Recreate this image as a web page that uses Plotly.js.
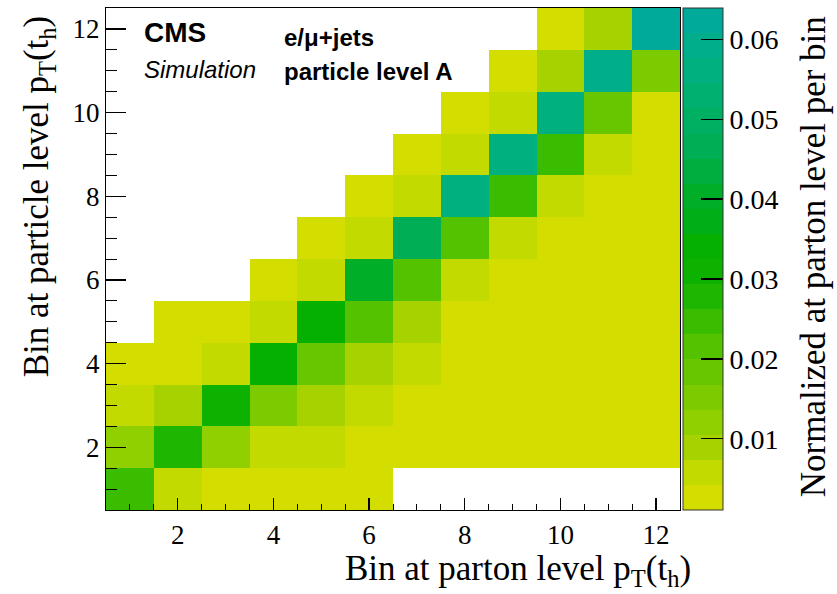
<!DOCTYPE html>
<html>
<head>
<meta charset="utf-8">
<script src="https://cdn.plot.ly/plotly-3.0.1.min.js"></script>
<style>html,body{margin:0;padding:0;background:#fff;}#plot{width:837px;height:594px;}</style>
</head>
<body>
<div id="plot"></div>
<script>
// Bin indices (parton level on x, particle level on y)
const partonBins = [1,2,3,4,5,6,7,8,9,10,11,12];
const particleBins = [1,2,3,4,5,6,7,8,9,10,11,12];

// Migration matrix: rows = particle-level bin 1..12, columns = parton-level bin 1..12
const row1  = [0.0245,0.0058,0.0035,0.0030,0.0025,0.0020,null,null,null,null,null,null];
const row2  = [0.0120,0.0280,0.0118,0.0060,0.0056,0.0035,0.0030,0.0026,0.0022,0.0020,0.0018,0.0015];
const row3  = [0.0060,0.0090,0.0310,0.0155,0.0095,0.0056,0.0035,0.0030,0.0026,0.0022,0.0020,0.0018];
const row4  = [0.0030,0.0036,0.0060,0.0340,0.0185,0.0095,0.0056,0.0035,0.0030,0.0026,0.0022,0.0020];
const row5  = [null,0.0025,0.0035,0.0058,0.0342,0.0220,0.0095,0.0038,0.0032,0.0028,0.0024,0.0022];
const row6  = [null,null,null,0.0030,0.0058,0.0395,0.0230,0.0056,0.0036,0.0030,0.0027,0.0024];
const row7  = [null,null,null,null,0.0028,0.0056,0.0465,0.0228,0.0056,0.0036,0.0030,0.0027];
const row8  = [null,null,null,null,null,0.0030,0.0058,0.0545,0.0235,0.0058,0.0035,0.0030];
const row9  = [null,null,null,null,null,null,0.0030,0.0060,0.0560,0.0232,0.0060,0.0038];
const row10 = [null,null,null,null,null,null,null,0.0034,0.0060,0.0562,0.0190,0.0040];
const row11 = [null,null,null,null,null,null,null,null,0.0035,0.0090,0.0585,0.0158];
const row12 = [null,null,null,null,null,null,null,null,null,0.0035,0.0090,0.0620];
const zRows = [row1,row2,row3,row4,row5,row6,row7,row8,row9,row10,row11,row12];

const zMin = 0.0011, zMax = 0.0639;
const cbTicks = [0.01,0.02,0.03,0.04,0.05,0.06];

// 20-level stepped palette (bottom to top)
const palette = ['#d3de00','#c3da00','#a6d300','#90cf00','#7bcb00','#68c600','#55c200','#3abc00',
  '#1eb600','#0db200','#05b000','#00ae18','#00ae28','#00ae40','#00ae55','#00b062','#00b070',
  '#00b07e','#00ae8c','#00aa9a'];
const colorscale = [];
palette.forEach((c,i)=>{ colorscale.push([i/palette.length,c]); colorscale.push([(i+1)/palette.length,c]); });

const serif = 'Liberation Serif, Times New Roman, serif';
const sans = 'Liberation Sans, Arial, sans-serif';

const trace = {
  type:'heatmap', x:partonBins, y:particleBins, z:zRows,
  zmin:zMin, zmax:zMax, colorscale:colorscale, zsmooth:false, hoverinfo:'skip',
  colorbar:{
    thickness:40, thicknessmode:'pixels', len:502, lenmode:'pixels',
    x:1.005, xanchor:'left', xpad:0, y:0.5, yanchor:'middle', ypad:0,
    outlinewidth:1, outlinecolor:'#333',
    tickvals:cbTicks, tickformat:'.2f', ticks:'inside', ticklen:22, tickwidth:1.2, tickcolor:'#000',
    tickfont:{family:serif, size:28, color:'#000'}
  }
};

const layout = {
  width:837, height:594,
  margin:{l:106, r:157, t:8, b:84},
  paper_bgcolor:'#fff', plot_bgcolor:'#fff',
  xaxis:{range:[0.5,12.5], tick0:0, dtick:2, ticks:'inside', ticklen:12, tickwidth:1.2, tickcolor:'#000',
    minor:{dtick:0.5, tick0:0, ticks:'inside', ticklen:6, tickcolor:'#000', tickwidth:1},
    showline:true, linecolor:'#000', linewidth:1.2, mirror:true, showgrid:false, zeroline:false,
    tickfont:{family:serif, size:27, color:'#000'}},
  yaxis:{range:[0.5,12.5], tick0:0, dtick:2, ticks:'inside', ticklen:20, tickwidth:1.2, tickcolor:'#000',
    minor:{dtick:0.5, tick0:0, ticks:'inside', ticklen:11, tickcolor:'#000', tickwidth:1},
    showline:true, linecolor:'#000', linewidth:1.2, mirror:true, showgrid:false, zeroline:false,
    tickfont:{family:serif, size:27, color:'#000'}},
  annotations:[
    {xref:'paper', yref:'paper', x:0.063, y:0.952, xanchor:'left', yanchor:'middle', showarrow:false,
      text:'<b>CMS</b>', font:{family:sans, size:28, color:'#000'}},
    {xref:'paper', yref:'paper', x:0.063, y:0.877, xanchor:'left', yanchor:'middle', showarrow:false,
      text:'<i>Simulation</i>', font:{family:sans, size:24, color:'#000'}},
    {xref:'paper', yref:'paper', x:0.306, y:0.942, xanchor:'left', yanchor:'middle', showarrow:false,
      text:'<b>e/μ+jets</b>', font:{family:sans, size:24, color:'#000'}},
    {xref:'paper', yref:'paper', x:0.306, y:0.874, xanchor:'left', yanchor:'middle', showarrow:false,
      text:'<b>particle level A</b>', font:{family:sans, size:24, color:'#000'}},
    {xref:'paper', yref:'paper', x:1.023, y:-0.12, xanchor:'right', yanchor:'middle', showarrow:false,
      text:'Bin at parton level p<sub>T</sub>(t<sub>h</sub>)', font:{family:serif, size:35, color:'#000'}},
    {xref:'paper', yref:'paper', x:-0.118, y:0.99, xanchor:'center', yanchor:'top', textangle:-90, showarrow:false,
      text:'Bin at particle level p<sub>T</sub>(t<sub>h</sub>)', font:{family:serif, size:35, color:'#000'}},
    {xref:'paper', yref:'paper', x:1.233, y:0.505, xanchor:'center', yanchor:'middle', textangle:-90, showarrow:false,
      text:'Normalized at parton level per bin', font:{family:serif, size:35, color:'#000'}}
  ]
};

Plotly.newPlot('plot',[trace],layout,{displayModeBar:false, staticPlot:true});
</script>
</body>
</html>
